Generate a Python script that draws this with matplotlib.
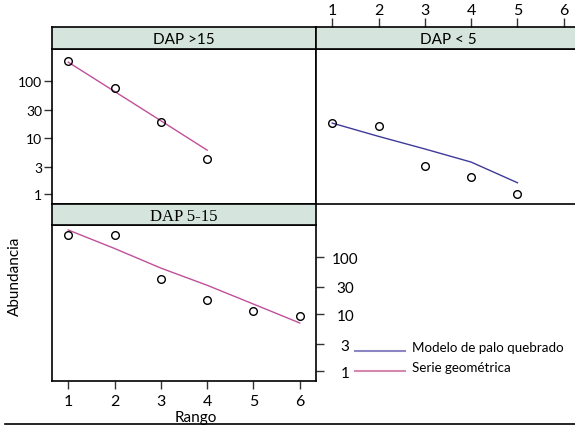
import matplotlib
matplotlib.use('Agg')
import matplotlib.pyplot as plt
from matplotlib.lines import Line2D

plt.rcParams['font.family'] = ['Lato', 'DejaVu Sans']

# data
ranks_gt15 = [1, 2, 3, 4]
obs_gt15 = [221, 74, 19, 4.2]
geom_gt15 = [213, 65, 19.8, 6.0]

ranks_lt5 = [1, 2, 3, 4, 5]
obs_lt5 = [18.3, 16, 3.1, 2.0, 1.0]
stick_lt5 = [18, 10.5, 6.3, 3.7, 1.6]

ranks_mid = [1, 2, 3, 4, 5, 6]
obs_mid = [238, 244, 41, 17.5, 11.3, 9.3]
geom_mid = [297, 141, 64, 32, 15, 7.0]

yticks = [1, 3, 10, 30, 100]
ytick_labels = ['1', '3', '10', '30', '100']
xticks = [1, 2, 3, 4, 5, 6]

panel_titles = ['DAP >15', 'DAP < 5', 'DAP 5-15']
legend_labels = ['Modelo de palo quebrado', 'Serie geométrica']

PINK = '#c0509a'
BLUE = '#3f3a9a'
STRIP = '#d5e5dd'

W, H = 575.0, 427.0
XLIM = (0.65, 6.35)

def px_axes(fig, x0, y0, x1, y1, **kw):
	return fig.add_axes([x0 / W, 1 - y1 / H, (x1 - x0) / W, (y1 - y0) / H], **kw)

def setup(ax):
	ax.set_yscale('log')
	ax.set_ylim(10 ** -0.17, 10 ** 2.56)
	ax.set_xlim(*XLIM)
	ax.minorticks_off()
	for s in ax.spines.values():
		s.set_linewidth(1.2)
	ax.tick_params(length=6, width=1, color='#333333')

def strip(fig, x0, y0, x1, y1, title, **kw):
	s = px_axes(fig, x0, y0, x1, y1)
	s.set_facecolor(STRIP)
	s.set_xlim(*XLIM)
	s.set_xticks([])
	s.set_yticks([])
	for sp in s.spines.values():
		sp.set_linewidth(1.2)
	s.text(0.5, 0.45, title, ha='center', va='center', transform=s.transAxes, **kw)
	return s

def points(ax, x, y):
	ax.plot(x, y, 'o', mfc='none', mec='black', ms=5.5, mew=1.0)

fig = plt.figure(figsize=(5.75, 4.27), dpi=100)

# top left panel
ax1 = px_axes(fig, 52, 50, 316, 205)
setup(ax1)
ax1.plot(ranks_gt15, geom_gt15, color=PINK, lw=1)
points(ax1, ranks_gt15, obs_gt15)
ax1.set_xticks([])
ax1.set_yticks(yticks)
ax1.set_yticklabels(ytick_labels, fontsize=10)
ax1.tick_params(axis='y', pad=1)

# top right panel
ax2 = px_axes(fig, 316, 50, 580, 205)
setup(ax2)
ax2.plot(ranks_lt5, stick_lt5, color=BLUE, lw=1)
points(ax2, ranks_lt5, obs_lt5)
ax2.set_yticks([])
ax2.set_xticks([])

# bottom left panel
ax3 = px_axes(fig, 52, 226, 316, 382)
setup(ax3)
ax3.plot(ranks_mid, geom_mid, color=PINK, lw=1)
points(ax3, ranks_mid, obs_mid)
ax3.set_xticks(xticks)
ax3.set_xticklabels([str(v) for v in xticks], fontsize=11.5)
ax3.yaxis.tick_right()
ax3.set_yticks(yticks)
ax3.set_yticklabels(ytick_labels, fontsize=11, ha='center')
ax3.tick_params(axis='y', pad=15)

# strips
strip(fig, 52, 28, 316, 50, panel_titles[0], fontsize=11)
s2 = strip(fig, 316, 28, 580, 50, panel_titles[1], fontsize=11)
s2.xaxis.tick_top()
s2.set_xticks(xticks)
s2.set_xticklabels([str(v) for v in xticks], fontsize=11.5)
s2.tick_params(axis='x', length=6.5, width=1, color='#333333', pad=1)
strip(fig, 52, 205, 316, 226, panel_titles[2], fontsize=12,
	family='Liberation Serif')

# axis labels
fig.text(15 / W, 1 - 276 / H, 'Abundancia', rotation=90, ha='center', va='center', fontsize=11)
fig.text(196 / W, 1 - 418 / H, 'Rango', ha='center', va='center', fontsize=11)

# legend
for (yy, col, lab) in [(351.5, '#8c86c4', legend_labels[0]), (371.5, '#d488ae', legend_labels[1])]:
	fig.add_artist(Line2D([355 / W, 405 / W], [1 - yy / H] * 2, color=col, lw=1.5))
	fig.text(412 / W, 1 - (yy - 3) / H, lab, ha='left', va='center', fontsize=9.6)

# bottom rule
fig.add_artist(Line2D([5 / W, 1], [1 - 425 / H] * 2, color='black', lw=1.2))

fig.savefig('out.png', dpi=100)
